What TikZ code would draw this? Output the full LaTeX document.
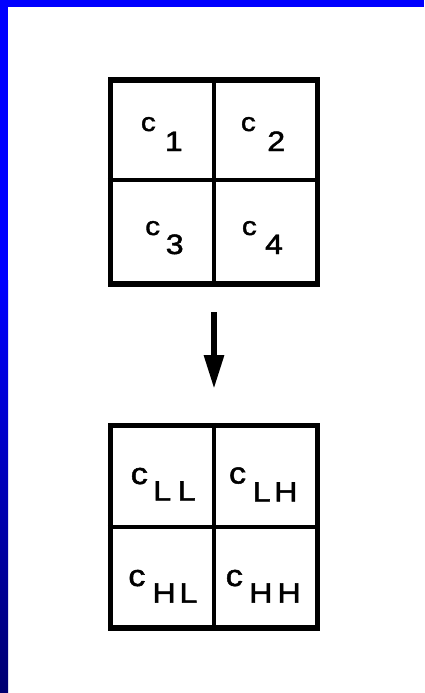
\documentclass[tikz,border=0pt]{standalone}
\usepackage{fontspec}
\newfontfamily\lblfont[FakeStretch=1.15, FakeBold=1.6]{Liberation Sans}
\usetikzlibrary{arrows.meta}
\definecolor{barblue}{RGB}{0,0,255}
\definecolor{navyend}{RGB}{0,0,112}
\newcommand{\mylab}[4]{{\fontsize{#1}{#1}\selectfont c}\hspace{#2pt}\raisebox{-#3pt}{\fontsize{28}{28}\selectfont #4}}
\tikzset{
  grid/.style={draw=black, line width=5.5pt, minimum width=207pt, minimum height=204pt, inner sep=0pt, fill=white},
  divider/.style={draw=black, line width=4.5pt},
  lbl/.style={anchor=base west, inner sep=0pt, font=\lblfont},
  bigarrow/.style={draw=black, line width=6pt, -{Triangle[length=34pt 0 0, width=19pt 0 0]}}
}
\begin{document}
\begin{tikzpicture}[x=1pt, y=-1pt]
\useasboundingbox (0,0) rectangle (424,693);
\fill[white] (0,0) rectangle (424,693);
% frame
\fill[barblue] (0,0) rectangle (424,7);
\fill[barblue] (0,0) rectangle (8,280);
\shade[top color=barblue, bottom color=navyend] (0,280) rectangle (8,693);
% top grid
\node[grid] (topgrid) at (214,182) {};
\draw[divider] (topgrid.north -| 214,0) -- (topgrid.south -| 214,0);
\draw[divider] (topgrid.west |- 0,180) -- (topgrid.east |- 0,180);
% bottom grid
\node[grid, minimum height=202.5pt] (botgrid) at (214,526.75) {};
\draw[divider] (botgrid.north -| 214,0) -- (botgrid.south -| 214,0);
\draw[divider] (botgrid.west |- 0,527) -- (botgrid.east |- 0,527);
% arrow
\coordinate (arrstart) at (214,312);
\coordinate (arrend) at (214,389);
\draw[bigarrow] (arrstart) -- (arrend);
% labels top
\node[lbl] (c1) at (140.7,131) {\mylab{26}{9}{20}{1}};
\node[lbl] (c2) at (240.7,131) {\mylab{26}{11.4}{20}{2}};
\node[lbl] (c3) at (145,235) {\mylab{26}{5.6}{19}{3}};
\node[lbl] (c4) at (241.7,235) {\mylab{26}{8.2}{19}{4}};
% labels bottom
\node[lbl] (cLL) at (130.5,484) {\mylab{30}{5.3}{16.5}{L\hspace{6.6pt}L}};
\node[lbl] (cLH) at (228.8,483.5) {\mylab{30}{6.5}{18}{L\hspace{3.6pt}H}};
\node[lbl] (cHL) at (128.1,586) {\mylab{30}{7}{16.7}{H\hspace{3.7pt}L}};
\node[lbl] (cHH) at (225.5,586) {\mylab{30}{6.3}{16.7}{H\hspace{5pt}H}};
\end{tikzpicture}
\end{document}
